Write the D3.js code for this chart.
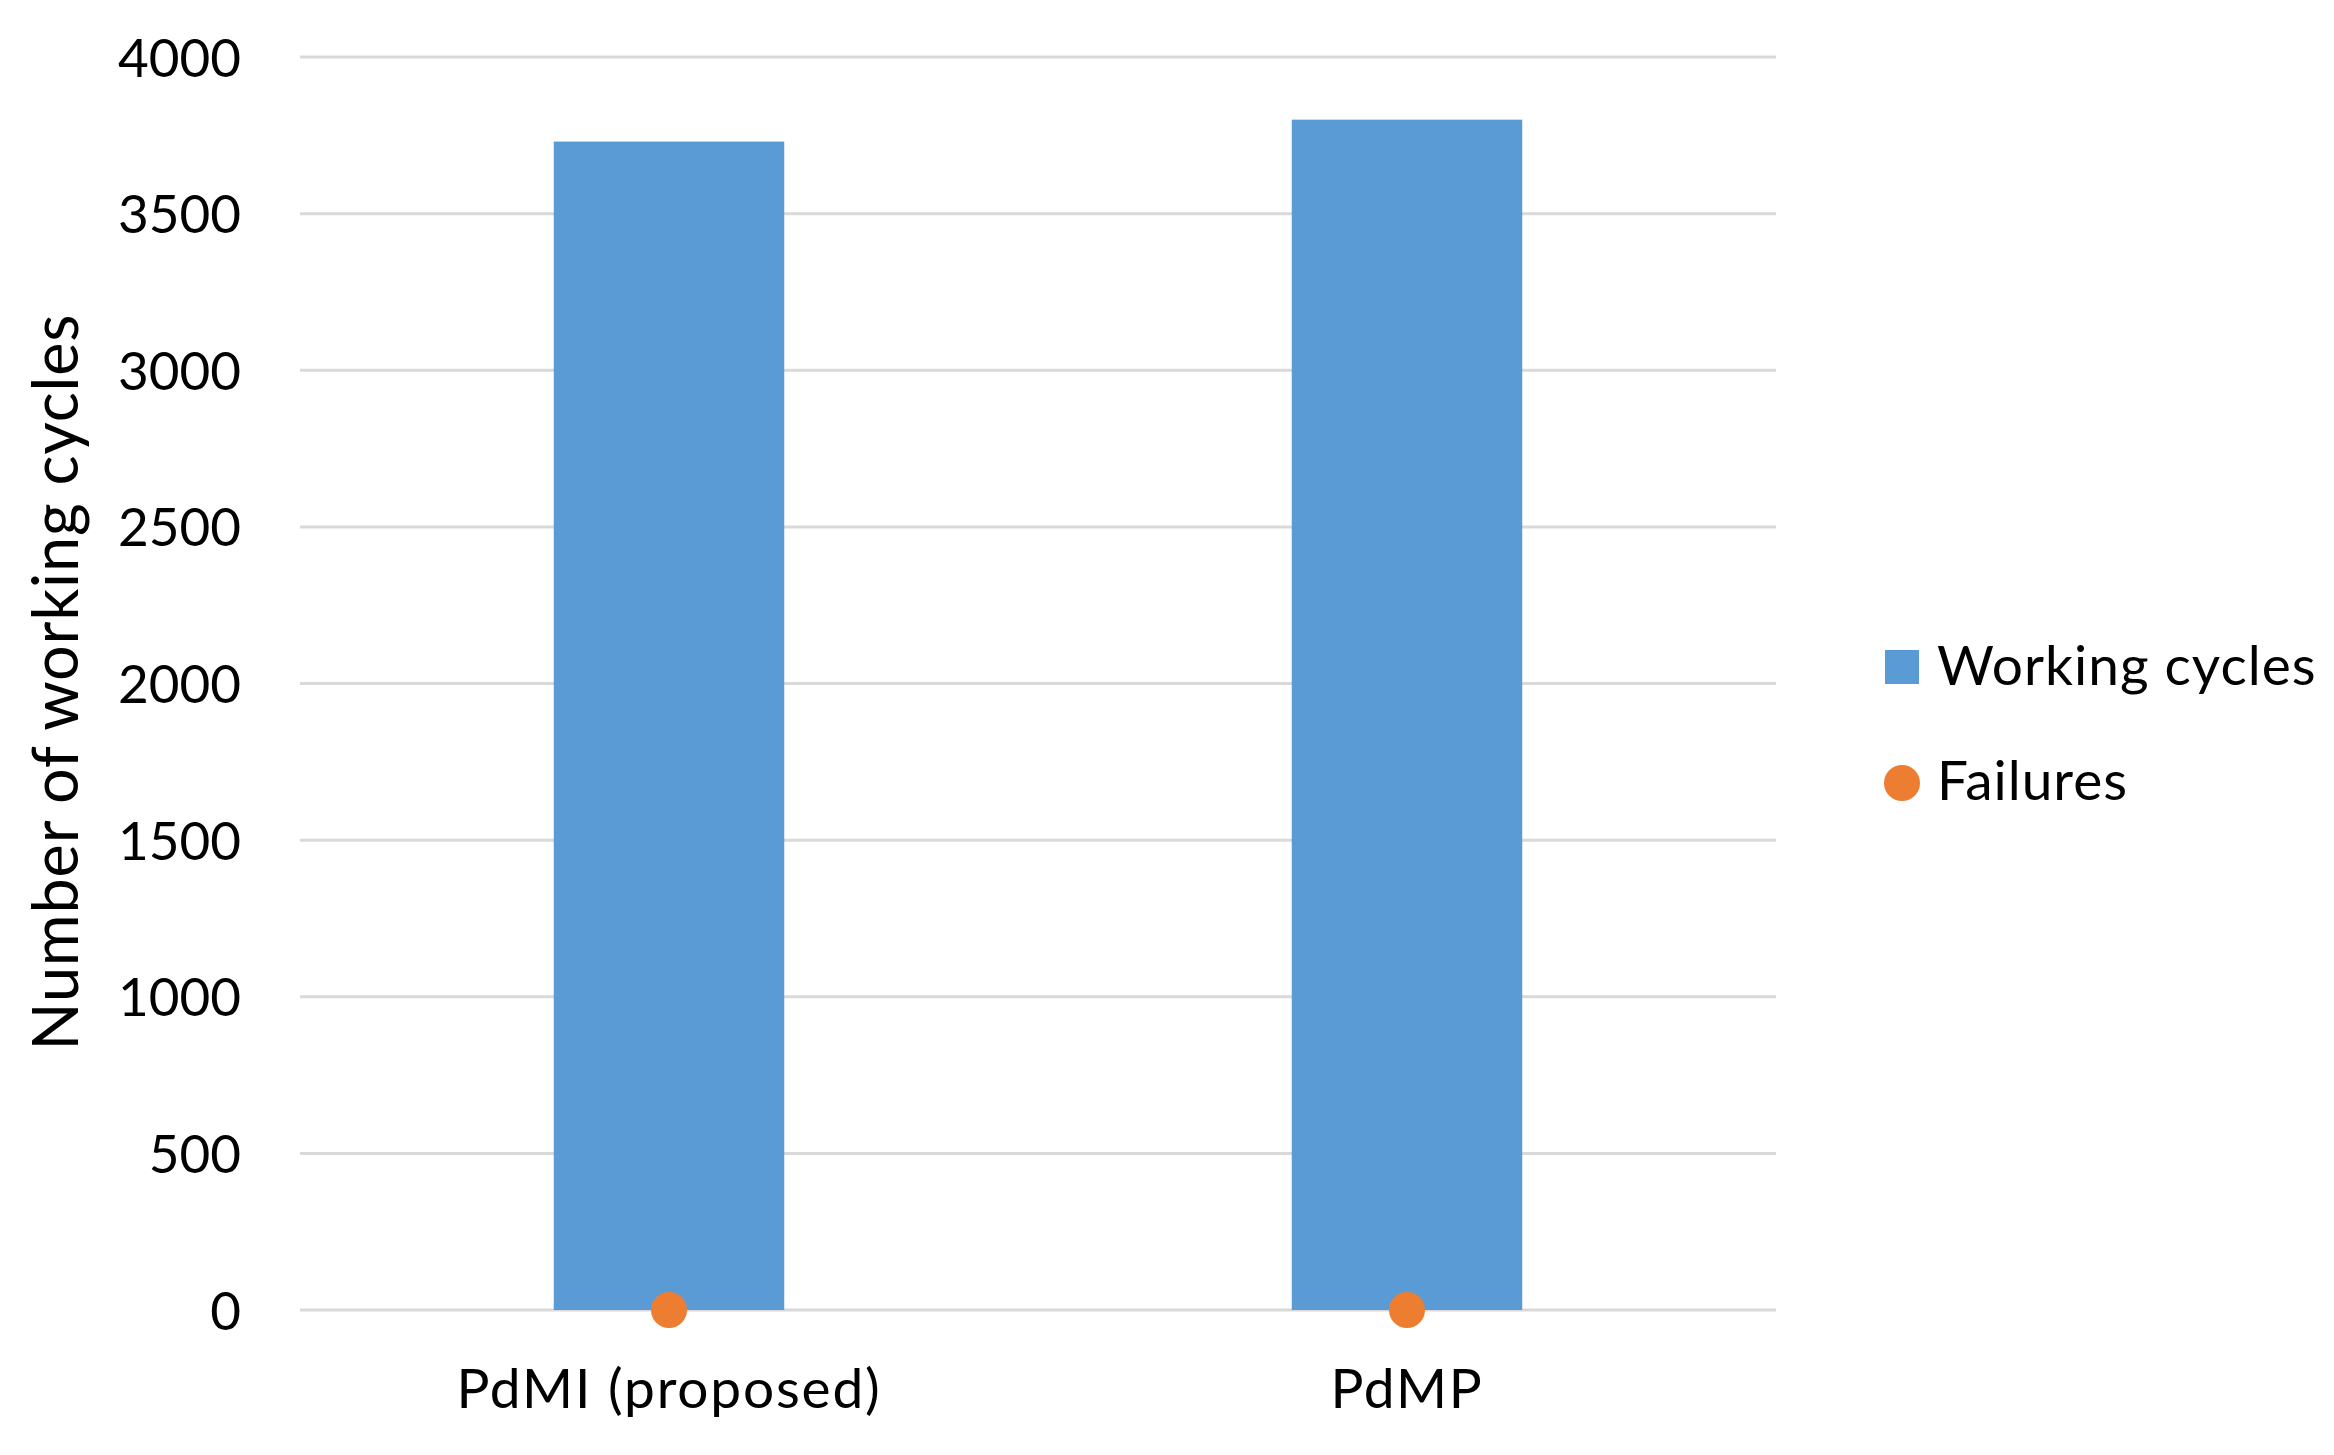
<!DOCTYPE html>
<html>
<head>
<meta charset="utf-8">
<script src="https://cdn.jsdelivr.net/npm/d3@7"></script>
<style>
  html, body { margin: 0; padding: 0; background: #ffffff; }
  svg { display: block; }
  text { font-family: Lato, "Open Sans", sans-serif; fill: #000; }
</style>
</head>
<body>
<svg id="chart" width="2334" height="1455"></svg>
<script>
const categories = ["PdMI (proposed)", "PdMP"];
const workingCycles = [3730, 3800];
const failures = [0, 0];
const yTicks = [0, 500, 1000, 1500, 2000, 2500, 3000, 3500, 4000];
const seriesNames = ["Working cycles", "Failures"];
const colors = { bar: "#5B9BD5", dot: "#ED7D31", grid: "#D9D9D9" };

const svg = d3.select("#chart");

const x = d3.scaleBand()
  .domain(categories)
  .range([300, 1776])
  .paddingInner(0.6877)
  .paddingOuter(0.6877 / 2);

const y = d3.scaleLinear()
  .domain([0, 4000])
  .range([1310, 57]);

// gridlines
svg.append("g")
  .selectAll("line")
  .data(yTicks)
  .join("line")
  .attr("x1", 300)
  .attr("x2", 1776)
  .attr("y1", d => y(d))
  .attr("y2", d => y(d))
  .attr("stroke", colors.grid)
  .attr("stroke-width", 3);

// y axis labels
const yAxis = d3.axisLeft(y).tickValues(yTicks).tickSize(0).tickPadding(0).tickFormat(d3.format("d"));
const yg = svg.append("g").attr("transform", "translate(241,0)").call(yAxis);
yg.select(".domain").remove();
yg.selectAll("text")
  .attr("font-size", 53)
  .attr("font-family", "Lato, 'Open Sans', sans-serif")
  .attr("fill", "#000")
  .attr("dy", "0.36em");

// bars
svg.append("g")
  .selectAll("rect")
  .data(categories.map((c, i) => ({ c, v: workingCycles[i] })))
  .join("rect")
  .attr("x", d => x(d.c))
  .attr("width", x.bandwidth())
  .attr("y", d => y(d.v))
  .attr("height", d => y(0) - y(d.v))
  .attr("fill", colors.bar);

// failure points
svg.append("g")
  .selectAll("circle")
  .data(categories.map((c, i) => ({ c, v: failures[i] })))
  .join("circle")
  .attr("cx", d => x(d.c) + x.bandwidth() / 2)
  .attr("cy", d => y(d.v))
  .attr("r", 18)
  .attr("fill", colors.dot);

// x axis labels
const xAxis = d3.axisBottom(x).tickSize(0).tickPadding(0);
const xg = svg.append("g").attr("transform", "translate(0,1408)").call(xAxis);
xg.select(".domain").remove();
xg.selectAll("text")
  .attr("font-size", 55)
  .attr("letter-spacing", 1.8)
  .attr("font-family", "Lato, 'Open Sans', sans-serif")
  .attr("fill", "#000")
  .attr("dy", 0)
  .attr("y", 0);

// y axis title
svg.append("text")
  .attr("transform", "translate(78,682) rotate(-90)")
  .attr("text-anchor", "middle")
  .attr("font-size", 63)
  .attr("letter-spacing", 0.8)
  .text("Number of working cycles");

// legend
const legend = svg.append("g");
legend.append("rect")
  .attr("x", 1885).attr("y", 650).attr("width", 34).attr("height", 34)
  .attr("fill", colors.bar);
legend.append("text")
  .attr("x", 1937).attr("y", 685)
  .attr("font-size", 55)
  .attr("letter-spacing", 1)
  .text(seriesNames[0]);
legend.append("circle")
  .attr("cx", 1902).attr("cy", 783).attr("r", 18)
  .attr("fill", colors.dot);
legend.append("text")
  .attr("x", 1937).attr("y", 800)
  .attr("font-size", 55)
  .attr("letter-spacing", 1)
  .text(seriesNames[1]);
</script>
</body>
</html>
